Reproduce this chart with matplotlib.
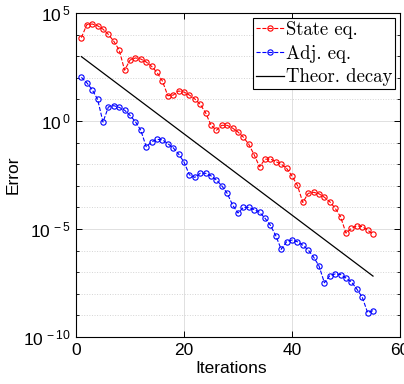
import numpy as np
import matplotlib
matplotlib.use("Agg")
import matplotlib.pyplot as plt
from matplotlib.ticker import FixedLocator, NullFormatter, NullLocator

iterations = list(range(1, 56))
state_log10 = [3.86, 4.46, 4.49, 4.41, 4.25, 4.01, 3.69, 3.29, 2.35, 2.82,
               2.92, 2.87, 2.73, 2.53, 2.25, 1.85, 1.17, 1.20, 1.39, 1.34,
               1.20, 1.02, 0.77, 0.38, -0.19, -0.43, -0.20, -0.20, -0.33, -0.51,
               -0.75, -1.08, -1.57, -2.12, -1.77, -1.76, -1.88, -2.00, -2.19, -2.55,
               -2.98, -3.77, -3.35, -3.30, -3.37, -3.53, -3.74, -4.04, -4.44, -5.19,
               -4.97, -4.85, -4.89, -5.05, -5.25]
adj_log10 = [2.02, 1.77, 1.45, 1.00, -0.05, 0.65, 0.71, 0.63, 0.50, 0.26,
             -0.03, -0.43, -1.19, -0.97, -0.85, -0.87, -1.05, -1.24, -1.53, -1.90,
             -2.49, -2.61, -2.42, -2.42, -2.54, -2.73, -3.00, -3.35, -3.89, -4.26,
             -4.00, -4.00, -4.10, -4.23, -4.50, -4.83, -5.31, -5.94, -5.59, -5.51,
             -5.59, -5.75, -5.97, -6.30, -6.71, -7.49, -7.16, -7.08, -7.11, -7.27,
             -7.45, -7.78, -8.15, -8.87, -8.78]
theor_iters = [1, 55]
theor_log10 = [2.98, -7.18]

state = 10.0 ** np.array(state_log10)
adj = 10.0 ** np.array(adj_log10)
theor = 10.0 ** np.array(theor_log10)

plt.rcParams['font.family'] = ['Liberation Sans', 'DejaVu Sans']
plt.rcParams['mathtext.fontset'] = 'custom'
plt.rcParams['mathtext.rm'] = 'Liberation Sans'
plt.rcParams['mathtext.it'] = 'Liberation Sans'
plt.rcParams['mathtext.default'] = 'regular'

fig = plt.figure(figsize=(4.04, 3.84), dpi=100)
ax = fig.add_axes([76/404, 47/384, 324/404, 324/384])

mk = dict(marker='o', markersize=3.8, markerfacecolor='none', markeredgewidth=0.8)
ax.plot(iterations, state, '--', color='#ff0000', lw=0.8, label='State eq.', **mk)
ax.plot(iterations, adj, '--', color='#0000ff', lw=0.8, label='Adj. eq.', **mk)
ax.plot(theor_iters, theor, '-', color='black', lw=0.9, label='Theor. decay')

ax.set_yscale('log')
ax.set_xlim(0, 60)
ax.set_ylim(1e-10, 1e5)
ax.xaxis.set_major_locator(FixedLocator([0, 20, 40, 60]))
ax.xaxis.set_minor_locator(NullLocator())
ax.yaxis.set_major_locator(FixedLocator([1e-10, 1e-5, 1e0, 1e5]))
ax.yaxis.set_minor_locator(FixedLocator([10.0**k for k in range(-10, 6) if k % 5 != 0]))
ax.yaxis.set_minor_formatter(NullFormatter())
ax.set_yticklabels(['$10^{\\,-10}$', '$10^{\\,-5}$', '$10^{\\,0}$', '$10^{\\,5}$'])

ax.tick_params(which='both', direction='in', top=True, right=True, labelsize=12.5, pad=4)
ax.tick_params(which='major', length=4, width=0.7)
ax.tick_params(which='minor', length=2.5, width=0.6)

ax.grid(True, which='major', color='#e0e0e0', lw=0.7, ls='-')
ax.grid(True, which='minor', axis='y', color='#d4d4d4', lw=0.7, ls=':')
ax.set_axisbelow(True)
for s in ax.spines.values():
    s.set_linewidth(0.8)

ax.set_xlabel('Iterations', fontsize=12.5, labelpad=1)
ax.xaxis.set_label_coords(0.48, -0.075)
ax.set_ylabel('Error', fontsize=12.5, labelpad=2)

leg = ax.legend(loc='upper right', bbox_to_anchor=(0.985, 0.984), borderaxespad=0,
                prop={'family': 'cmr10', 'size': 13.5}, fancybox=False,
                edgecolor='black', framealpha=1, handlelength=1.5, handletextpad=0.1,
                borderpad=0.15, labelspacing=0.3)
leg.get_frame().set_linewidth(0.8)

fig.savefig('out.png', dpi=100)
